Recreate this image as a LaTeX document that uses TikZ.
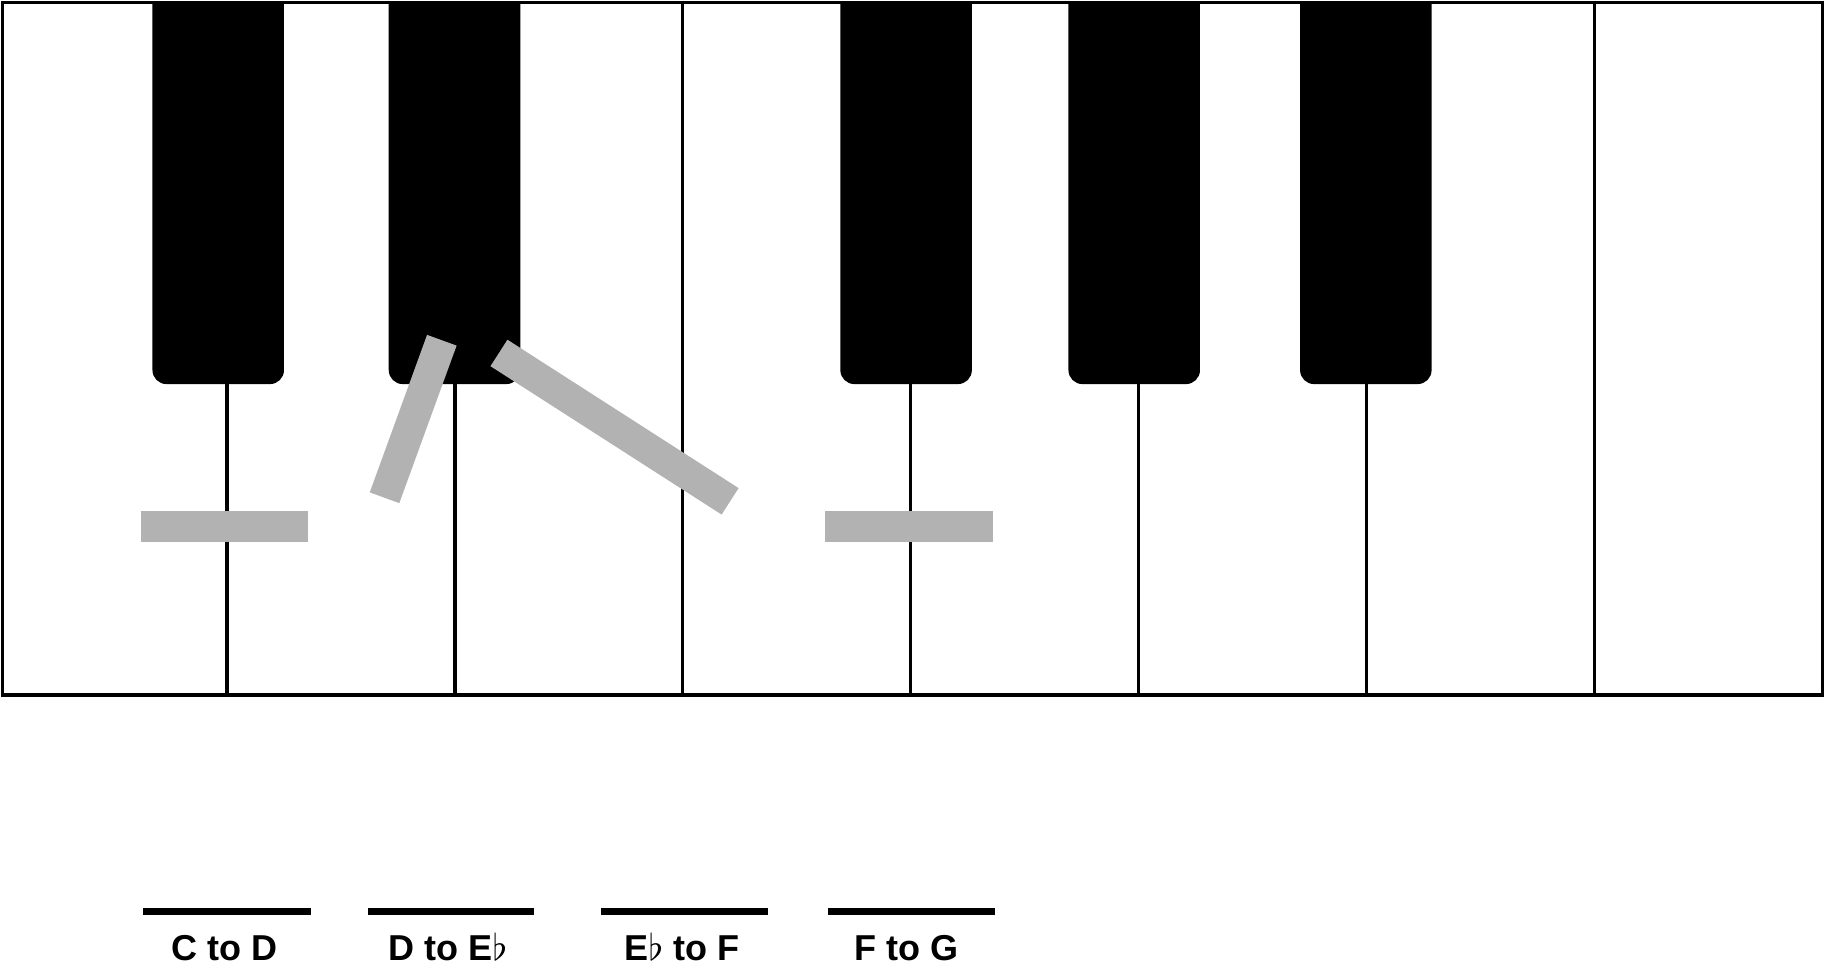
\documentclass[tikz,border=0pt]{standalone}
\usepackage{fontspec}
\setmainfont{Liberation Sans}
\begin{document}
\begin{tikzpicture}[
  x=0.1mm, y=-0.1mm,
  % outline of the white keys:
  keyline/.style={line width=0.3mm},
  bar/.style={fill=black!30, minimum width=14.4mm, minimum height=2.7mm, inner sep=0pt},
  rule/.style={line width=0.6mm},
  lbl/.style={font=\bfseries\fontsize{8.8}{10}\selectfont, anchor=base, inner sep=0pt}
]
\useasboundingbox (0,0) rectangle (1568,837);
% white keys
\fill[white] (2,2) rectangle (1566,597);
\foreach \i in {1,...,7}
  \draw[keyline] ({195+195.8*(\i-1)},2) -- ++(0,595);
\draw[keyline] (2,2) rectangle (1566,597);
% black keys, rounded at the bottom only
\foreach \bx in {131,334,722,918,1117}
  \fill (\bx,2) -- (\bx,318) arc[start angle=180, end angle=270, radius=1.2mm]
    -- (\bx+101,330) arc[start angle=270, end angle=360, radius=1.2mm]
    -- (\bx+113,2) -- cycle;
% fingerings
\node[bar] (cd) at (193,452.5) {};
\node[bar, rotate=70] (deb) at (355,360) {};
\node[bar, minimum width=23.6mm, rotate=-32.7] (ebf) at (528,367) {};
\node[bar] (fg) at (781,452.5) {};
% labels
\draw[rule] (123,783) -- (267,783);
\draw[rule] (316,783) -- (459,783);
\draw[rule] (516,783) -- (660,783);
\draw[rule] (711,783) -- (855,783);
\node[lbl] (lcd) at (193,825) {C to D};
\node[lbl] (ldeb) at (385,825) {D to E$\flat$};
\node[lbl] (lebf) at (586,825) {E$\flat$ to F};
\node[lbl] (lfg) at (779,825) {F to G};
\end{tikzpicture}
\end{document}
